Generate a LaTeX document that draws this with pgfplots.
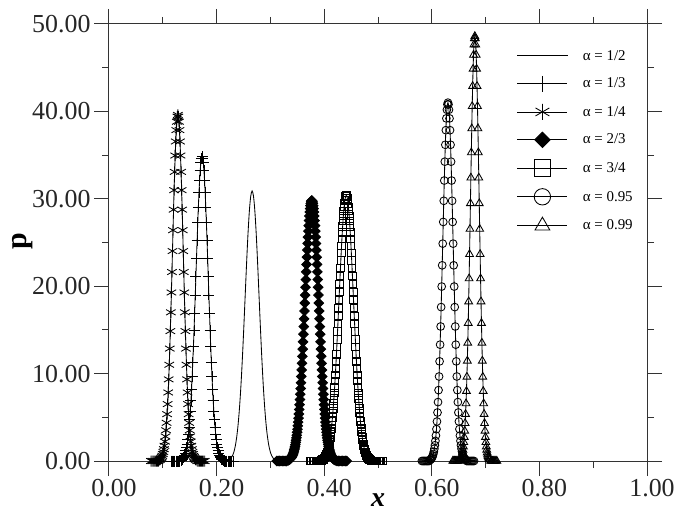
\documentclass[border=0pt]{standalone}
\usepackage{fontspec}
\setmainfont{Liberation Serif}
\usepackage{pgfplots}
\pgfplotsset{compat=1.18}
\usetikzlibrary{calc}
\begin{document}
\begin{tikzpicture}
\begin{axis}[
 scale only axis,
 width=538bp, height=437bp,
 xmin=0, xmax=1, ymin=0, ymax=50,
 clip=false,
 axis line style={black!80, line width=1bp},
 xtick={0,0.2,0.4,0.6,0.8,1},
 xticklabels={0.00,0.20,0.40,0.60,0.80,1.00},
 ytick={0,10,20,30,40,50},
 yticklabels={0.00,10.00,20.00,30.00,40.00,50.00},
 minor x tick num=1, minor y tick num=1,
 tick align=outside,
 major tick length=15bp, minor tick length=7bp,
 every tick/.style={black!80, line width=1bp},
 ticklabel style={font=\fontsize{26}{28}\selectfont, text=black!85},
 xticklabel style={xshift=5bp},
 xlabel={\textbf{\textit{x}}},
 ylabel={\textbf{p}},
 xlabel style={font=\fontsize{28}{30}\selectfont, at={(axis description cs:0.5,-0.089)}, anchor=center},
 ylabel style={font=\fontsize{30}{32}\selectfont, at={(axis description cs:-0.16,0.503)}, anchor=center},
 legend style={draw=none, fill=none, at={(axis description cs:0.758,0.945)}, anchor=north west, font=\fontsize{15}{17}\selectfont, row sep=12.2bp, inner sep=0pt, /tikz/every odd column/.append style={column sep=13bp}},
 legend cell align=left,
 legend image code/.code={\draw[mark repeat=2,mark phase=2] plot coordinates {(0bp,0bp)(25bp,0bp)(50bp,0bp)};},
 every axis plot/.append style={black, line width=0.85bp},
]
\coordinate (bl) at (rel axis cs:0,0);
\coordinate (tr) at (rel axis cs:1,1);

% alpha = 1/2
\addplot[smooth] coordinates {(0.2218,0.10)(0.2244,0.18)(0.2270,0.34)(0.2296,0.61)(0.2322,1.05)(0.2348,1.73)(0.2374,2.75)(0.2400,4.18)(0.2426,6.12)(0.2452,8.59)(0.2478,11.60)(0.2504,15.04)(0.2530,18.74)(0.2556,22.44)(0.2582,25.81)(0.2608,28.52)(0.2634,30.29)(0.2660,30.90)(0.2686,30.29)(0.2712,28.52)(0.2738,25.81)(0.2764,22.44)(0.2790,18.74)(0.2816,15.04)(0.2842,11.60)(0.2868,8.59)(0.2894,6.12)(0.2920,4.18)(0.2946,2.75)(0.2972,1.73)(0.2998,1.05)(0.3024,0.61)(0.3050,0.34)(0.3076,0.18)(0.3102,0.10)};
\addlegendentry{α = 1/2}

% alpha = 1/3
\addplot[mark=+, mark size=5.5bp, legend image post style={every mark/.append style={scale=1.45}}] coordinates {(0.1155,0)(0.1178,0)(0.1201,0)(0.1224,0)(0.1247,0)(0.1270,0)(0.1293,0)(0.1316,0)(0.1339,0.11)(0.13505,0.15)(0.1362,0.21)(0.13735,0.29)(0.1385,0.39)(0.13965,0.52)(0.1408,0.69)(0.14195,0.91)(0.1431,1.18)(0.14425,1.53)(0.1454,1.95)(0.14655,2.47)(0.1477,3.09)(0.14885,3.84)(0.15,4.71)(0.15115,5.72)(0.1523,6.89)(0.15345,8.20)(0.1546,9.68)(0.15575,11.30)(0.1569,13.06)(0.15805,14.95)(0.1592,16.94)(0.16035,19.00)(0.1615,21.11)(0.16265,23.21)(0.1638,25.27)(0.16495,27.24)(0.1661,29.07)(0.16725,30.71)(0.1684,32.12)(0.16955,33.27)(0.1707,34.11)(0.17185,34.63)(0.173,34.80)(0.17415,34.63)(0.1753,34.11)(0.17645,33.27)(0.1776,32.12)(0.17875,30.71)(0.1799,29.07)(0.18105,27.24)(0.1822,25.27)(0.18335,23.21)(0.1845,21.11)(0.18565,19.00)(0.1868,16.94)(0.18795,14.95)(0.1891,13.06)(0.19025,11.30)(0.1914,9.68)(0.19255,8.20)(0.1937,6.89)(0.19485,5.72)(0.196,4.71)(0.19715,3.84)(0.1983,3.09)(0.19945,2.47)(0.2006,1.95)(0.20175,1.53)(0.2029,1.18)(0.20405,0.91)(0.2052,0.69)(0.20635,0.52)(0.2075,0.39)(0.20865,0.29)(0.2098,0.21)(0.21095,0.15)(0.2121,0.11)(0.2144,0)(0.2167,0)(0.2190,0)(0.2213,0)(0.2236,0)(0.2259,0)(0.2282,0)(0.2305,0)};
\addlegendentry{α = 1/3}

% alpha = 1/4
\addplot[mark=asterisk, mark size=5.5bp, legend image post style={every mark/.append style={scale=1.45}}] coordinates {(0.078,0)(0.080,0)(0.082,0)(0.084,0)(0.086,0)(0.088,0)(0.090,0)(0.092,0)(0.094,0.12)(0.095,0.17)(0.096,0.24)(0.097,0.32)(0.098,0.44)(0.099,0.59)(0.100,0.79)(0.101,1.03)(0.102,1.35)(0.103,1.74)(0.104,2.22)(0.105,2.81)(0.106,3.52)(0.107,4.37)(0.108,5.36)(0.109,6.51)(0.110,7.84)(0.111,9.34)(0.112,11.01)(0.113,12.86)(0.114,14.86)(0.115,17.01)(0.116,19.28)(0.117,21.62)(0.118,24.02)(0.119,26.41)(0.120,28.76)(0.121,30.99)(0.122,33.08)(0.123,34.95)(0.124,36.56)(0.125,37.86)(0.126,38.82)(0.127,39.40)(0.128,39.60)(0.129,39.40)(0.130,38.82)(0.131,37.86)(0.132,36.56)(0.133,34.95)(0.134,33.08)(0.135,30.99)(0.136,28.76)(0.137,26.41)(0.138,24.02)(0.139,21.62)(0.140,19.28)(0.141,17.01)(0.142,14.86)(0.143,12.86)(0.144,11.01)(0.145,9.34)(0.146,7.84)(0.147,6.51)(0.148,5.36)(0.149,4.37)(0.150,3.52)(0.151,2.81)(0.152,2.22)(0.153,1.74)(0.154,1.35)(0.155,1.03)(0.156,0.79)(0.157,0.59)(0.158,0.44)(0.159,0.32)(0.160,0.24)(0.161,0.17)(0.162,0.12)(0.164,0)(0.166,0)(0.168,0)(0.170,0)(0.172,0)(0.174,0)(0.176,0)(0.178,0)};
\addlegendentry{α = 1/4}

% alpha = 2/3
\addplot[mark=square*, mark size=3.4bp, mark options={rotate=45, fill=black}, legend image post style={every mark/.append style={scale=1.6}}] coordinates {(0.3120,0)(0.3146,0)(0.3172,0)(0.3198,0)(0.3224,0)(0.3250,0)(0.3276,0)(0.3302,0)(0.3328,0.09)(0.3341,0.13)(0.3354,0.18)(0.3367,0.24)(0.3380,0.33)(0.3393,0.44)(0.3406,0.59)(0.3419,0.78)(0.3432,1.01)(0.3445,1.31)(0.3458,1.67)(0.3471,2.12)(0.3484,2.65)(0.3497,3.29)(0.3510,4.03)(0.3523,4.90)(0.3536,5.90)(0.3549,7.03)(0.3562,8.29)(0.3575,9.67)(0.3588,11.18)(0.3601,12.80)(0.3614,14.51)(0.3627,16.27)(0.3640,18.07)(0.3653,19.88)(0.3666,21.64)(0.3679,23.32)(0.3692,24.89)(0.3705,26.30)(0.3718,27.51)(0.3731,28.49)(0.3744,29.21)(0.3757,29.65)(0.3770,29.80)(0.3783,29.65)(0.3796,29.21)(0.3809,28.49)(0.3822,27.51)(0.3835,26.30)(0.3848,24.89)(0.3861,23.32)(0.3874,21.64)(0.3887,19.88)(0.3900,18.07)(0.3913,16.27)(0.3926,14.51)(0.3939,12.80)(0.3952,11.18)(0.3965,9.67)(0.3978,8.29)(0.3991,7.03)(0.4004,5.90)(0.4017,4.90)(0.4030,4.03)(0.4043,3.29)(0.4056,2.65)(0.4069,2.12)(0.4082,1.67)(0.4095,1.31)(0.4108,1.01)(0.4121,0.78)(0.4134,0.59)(0.4147,0.44)(0.4160,0.33)(0.4173,0.24)(0.4186,0.18)(0.4199,0.13)(0.4212,0.09)(0.4238,0)(0.4264,0)(0.4290,0)(0.4316,0)(0.4342,0)(0.4368,0)(0.4394,0)(0.4420,0)};
\addlegendentry{α = 2/3}
\addplot[forget plot, only marks, mark=square*, mark size=3.4bp, mark options={rotate=45, fill=black}] coordinates {(0.33345,0.11)(0.33475,0.15)(0.33605,0.21)(0.33735,0.28)(0.33865,0.38)(0.33995,0.51)(0.34125,0.68)(0.34255,0.89)(0.34385,1.15)(0.34515,1.48)(0.34645,1.88)(0.34775,2.37)(0.34905,2.95)(0.35035,3.64)(0.35165,4.45)(0.35295,5.38)(0.35425,6.44)(0.35555,7.64)(0.35685,8.96)(0.35815,10.42)(0.35945,11.98)(0.36075,13.64)(0.36205,15.38)(0.36335,17.17)(0.36465,18.98)(0.36595,20.76)(0.36725,22.49)(0.36855,24.13)(0.36985,25.62)(0.37115,26.93)(0.37245,28.03)(0.37375,28.88)(0.37505,29.47)(0.37635,29.76)(0.37765,29.76)(0.37895,29.47)(0.38025,28.88)(0.38155,28.03)(0.38285,26.93)(0.38415,25.62)(0.38545,24.13)(0.38675,22.49)(0.38805,20.76)(0.38935,18.98)(0.39065,17.17)(0.39195,15.38)(0.39325,13.64)(0.39455,11.98)(0.39585,10.42)(0.39715,8.96)(0.39845,7.64)(0.39975,6.44)(0.40105,5.38)(0.40235,4.45)(0.40365,3.64)(0.40495,2.95)(0.40625,2.37)(0.40755,1.88)(0.40885,1.48)(0.41015,1.15)(0.41145,0.89)(0.41275,0.68)(0.41405,0.51)(0.41535,0.38)(0.41665,0.28)(0.41795,0.21)(0.41925,0.15)(0.42055,0.11)};

% alpha = 3/4
\addplot[mark=square, mark size=3.8bp, legend image post style={every mark/.append style={scale=2.2}}] coordinates {(0.3735,0)(0.3762,0)(0.3789,0)(0.3816,0)(0.3843,0)(0.3870,0)(0.3897,0)(0.3924,0)(0.3951,0.09)(0.39645,0.13)(0.3978,0.18)(0.39915,0.25)(0.4005,0.34)(0.40185,0.45)(0.4032,0.60)(0.40455,0.79)(0.4059,1.04)(0.40725,1.34)(0.4086,1.71)(0.40995,2.16)(0.4113,2.70)(0.41265,3.35)(0.4140,4.11)(0.41535,5.00)(0.4167,6.02)(0.41805,7.17)(0.4194,8.45)(0.42075,9.87)(0.4221,11.41)(0.42345,13.06)(0.4248,14.80)(0.42615,16.60)(0.4275,18.44)(0.42885,20.28)(0.4302,22.07)(0.43155,23.79)(0.4329,25.39)(0.43425,26.83)(0.4356,28.06)(0.43695,29.06)(0.4383,29.80)(0.43965,30.25)(0.4410,30.40)(0.44235,30.25)(0.4437,29.80)(0.44505,29.06)(0.4464,28.06)(0.44775,26.83)(0.4491,25.39)(0.45045,23.79)(0.4518,22.07)(0.45315,20.28)(0.4545,18.44)(0.45585,16.60)(0.4572,14.80)(0.45855,13.06)(0.4599,11.41)(0.46125,9.87)(0.4626,8.45)(0.46395,7.17)(0.4653,6.02)(0.46665,5.00)(0.4680,4.11)(0.46935,3.35)(0.4707,2.70)(0.47205,2.16)(0.4734,1.71)(0.47475,1.34)(0.4761,1.04)(0.47745,0.79)(0.4788,0.60)(0.48015,0.45)(0.4815,0.34)(0.48285,0.25)(0.4842,0.18)(0.48555,0.13)(0.4869,0.09)(0.4896,0)(0.4923,0)(0.4950,0)(0.4977,0)(0.5004,0)(0.5031,0)(0.5058,0)(0.5085,0)};
\addlegendentry{α = 3/4}
\addplot[forget plot, only marks, mark=square, mark size=3.8bp] coordinates {(0.395775,0.11)(0.397125,0.15)(0.398475,0.21)(0.399825,0.29)(0.401175,0.39)(0.402525,0.52)(0.403875,0.69)(0.405225,0.91)(0.406575,1.18)(0.407925,1.51)(0.409275,1.92)(0.410625,2.42)(0.411975,3.01)(0.413325,3.72)(0.414675,4.54)(0.416025,5.49)(0.417375,6.57)(0.418725,7.79)(0.420075,9.14)(0.421425,10.62)(0.422775,12.22)(0.424125,13.92)(0.425475,15.69)(0.426825,17.52)(0.428175,19.36)(0.429525,21.18)(0.430875,22.95)(0.432225,24.61)(0.433575,26.13)(0.434925,27.47)(0.436275,28.59)(0.437625,29.46)(0.438975,30.06)(0.440325,30.36)(0.441675,30.36)(0.443025,30.06)(0.444375,29.46)(0.445725,28.59)(0.447075,27.47)(0.448425,26.13)(0.449775,24.61)(0.451125,22.95)(0.452475,21.18)(0.453825,19.36)(0.455175,17.52)(0.456525,15.69)(0.457875,13.92)(0.459225,12.22)(0.460575,10.62)(0.461925,9.14)(0.463275,7.79)(0.464625,6.57)(0.465975,5.49)(0.467325,4.54)(0.468675,3.72)(0.470025,3.01)(0.471375,2.42)(0.472725,1.92)(0.474075,1.51)(0.475425,1.18)(0.476775,0.91)(0.478125,0.69)(0.479475,0.52)(0.480825,0.39)(0.482175,0.29)(0.483525,0.21)(0.484875,0.15)(0.486225,0.11)};

% alpha = 0.95
\addplot[mark=o, mark size=3.9bp, legend image post style={every mark/.append style={scale=2.1}}] coordinates {(0.5815,0)(0.58344,0)(0.58538,0)(0.58732,0)(0.58926,0)(0.5912,0)(0.59314,0)(0.59508,0)(0.59702,0.13)(0.59799,0.18)(0.59896,0.25)(0.59993,0.34)(0.6009,0.46)(0.60187,0.61)(0.60284,0.81)(0.60381,1.07)(0.60478,1.40)(0.60575,1.80)(0.60672,2.30)(0.60769,2.91)(0.60866,3.65)(0.60963,4.52)(0.6106,5.55)(0.61157,6.74)(0.61254,8.11)(0.61351,9.67)(0.61448,11.40)(0.61545,13.31)(0.61642,15.39)(0.61739,17.61)(0.61836,19.96)(0.61933,22.39)(0.6203,24.87)(0.62127,27.35)(0.62224,29.77)(0.62321,32.09)(0.62418,34.25)(0.62515,36.18)(0.62612,37.85)(0.62709,39.20)(0.62806,40.19)(0.62903,40.80)(0.63,41.00)(0.63097,40.80)(0.63194,40.19)(0.63291,39.20)(0.63388,37.85)(0.63485,36.18)(0.63582,34.25)(0.63679,32.09)(0.63776,29.77)(0.63873,27.35)(0.6397,24.87)(0.64067,22.39)(0.64164,19.96)(0.64261,17.61)(0.64358,15.39)(0.64455,13.31)(0.64552,11.40)(0.64649,9.67)(0.64746,8.11)(0.64843,6.74)(0.6494,5.55)(0.65037,4.52)(0.65134,3.65)(0.65231,2.91)(0.65328,2.30)(0.65425,1.80)(0.65522,1.40)(0.65619,1.07)(0.65716,0.81)(0.65813,0.61)(0.6591,0.46)(0.66007,0.34)(0.66104,0.25)(0.66201,0.18)(0.66298,0.13)(0.66492,0)(0.66686,0)(0.6688,0)(0.67074,0)(0.67268,0)(0.67462,0)(0.67656,0)(0.6785,0)};
\addlegendentry{α = 0.95}

% alpha = 0.99
\addplot[mark=triangle, mark size=4.5bp, legend image post style={every mark/.append style={scale=1.9}}] coordinates {(0.639,0)(0.64064,0)(0.64228,0)(0.64392,0)(0.64556,0)(0.6472,0)(0.64884,0)(0.65048,0)(0.65212,0.15)(0.65294,0.21)(0.65376,0.29)(0.65458,0.40)(0.6554,0.54)(0.65622,0.73)(0.65704,0.96)(0.65786,1.27)(0.65868,1.65)(0.6595,2.14)(0.66032,2.73)(0.66114,3.45)(0.66196,4.32)(0.66278,5.36)(0.6636,6.58)(0.66442,7.99)(0.66524,9.62)(0.66606,11.46)(0.66688,13.51)(0.6677,15.78)(0.66852,18.24)(0.66934,20.88)(0.67016,23.66)(0.67098,26.54)(0.6718,29.48)(0.67262,32.41)(0.67344,35.29)(0.67426,38.04)(0.67508,40.59)(0.6759,42.89)(0.67672,44.86)(0.67754,46.46)(0.67836,47.64)(0.67918,48.36)(0.68,48.60)(0.68082,48.36)(0.68164,47.64)(0.68246,46.46)(0.68328,44.86)(0.6841,42.89)(0.68492,40.59)(0.68574,38.04)(0.68656,35.29)(0.68738,32.41)(0.6882,29.48)(0.68902,26.54)(0.68984,23.66)(0.69066,20.88)(0.69148,18.24)(0.6923,15.78)(0.69312,13.51)(0.69394,11.46)(0.69476,9.62)(0.69558,7.99)(0.6964,6.58)(0.69722,5.36)(0.69804,4.32)(0.69886,3.45)(0.69968,2.73)(0.7005,2.14)(0.70132,1.65)(0.70214,1.27)(0.70296,0.96)(0.70378,0.73)(0.7046,0.54)(0.70542,0.40)(0.70624,0.29)(0.70706,0.21)(0.70788,0.15)(0.70952,0)(0.71116,0)(0.7128,0)(0.71444,0)(0.71608,0)(0.71772,0)(0.71936,0)(0.721,0)};
\addlegendentry{α = 0.99}
\end{axis}
\pgfresetboundingbox
\path ($(bl)+(-109bp,-58bp)$) rectangle ($(tr)+(28bp,24bp)$);
\end{tikzpicture}
\end{document}
